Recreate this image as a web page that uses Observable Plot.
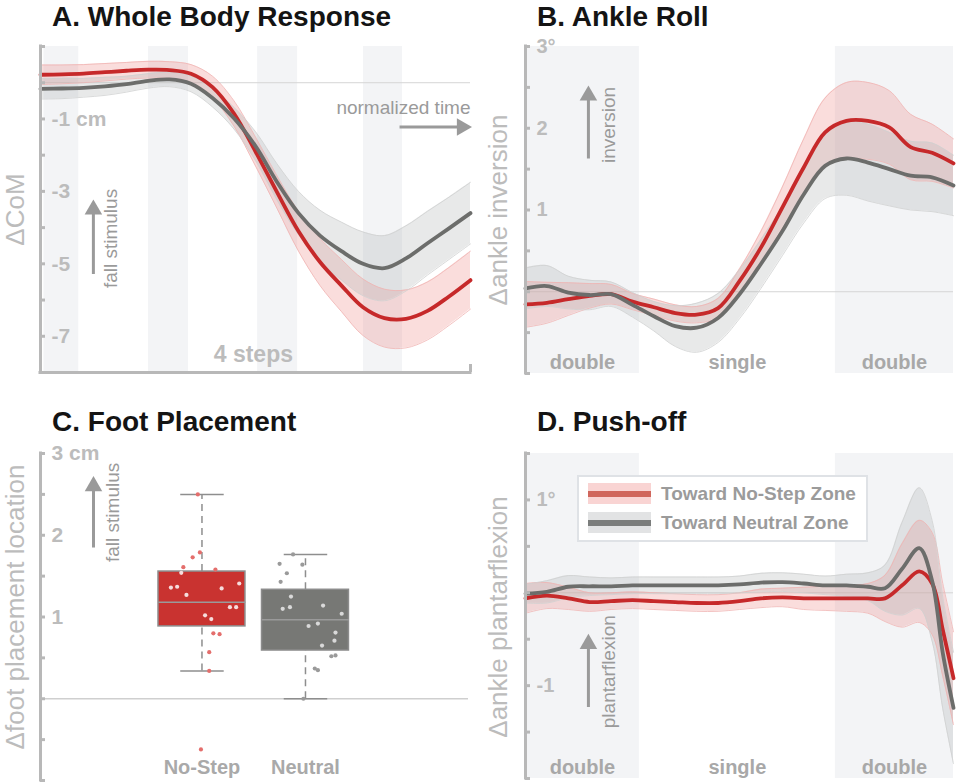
<!DOCTYPE html>
<html>
<head>
<meta charset="utf-8">
<script src="https://cdn.jsdelivr.net/npm/d3@7"></script>
<script src="https://cdn.jsdelivr.net/npm/@observablehq/plot@0.6"></script>
<style>
  body { margin: 0; background: #fff; font-family: "Liberation Sans", Arial, Helvetica, sans-serif; }
  #wrap { position: relative; width: 958px; height: 784px; overflow: hidden; background: #fff; }
  .panel { position: absolute; }
  .panel svg { overflow: visible; }
  .title { position: absolute; font-weight: bold; font-size: 28px; line-height: 28px; color: #141414; white-space: nowrap; }
  #legend { position: absolute; left: 577px; top: 475px; width: 287px; height: 63px; border: 2px solid #dfe2e6; background: #fff; }
  .sw { position: absolute; left: 9px; width: 63px; height: 21px; }
  .sw .ln { position: absolute; left: 0; right: 0; top: 8px; height: 6px; }
  .lt { position: absolute; left: 82px; font-weight: bold; font-size: 19px; line-height: 21px; color: #9b9b9b; white-space: nowrap; }
</style>
</head>
<body>
<div id="wrap">
  <div class="title" style="left:52px;top:3px">A. Whole Body Response</div>
  <div class="title" style="left:537px;top:3px">B. Ankle Roll</div>
  <div class="title" style="left:52px;top:408px">C. Foot Placement</div>
  <div class="title" style="left:537px;top:408px">D. Push-off</div>
  <div class="panel" id="pA" style="left:0;top:30px"></div>
  <div class="panel" id="pB" style="left:480px;top:30px"></div>
  <div class="panel" id="pC" style="left:0;top:430px"></div>
  <div class="panel" id="pD" style="left:480px;top:430px"></div>
</div>
<script>
// ---------------- DATA ----------------
// Panel A: whole body response (ΔCoM, cm) over normalized time (0-100)
const timeA = [0,5,10,15,20,25,30,35,40,45,50,55,60,65,70,75,80,85,90,95,100];
const comNoStep   = [0.22,0.23,0.25,0.29,0.33,0.36,0.35,0.25,-0.12,-0.85,-1.9,-3.02,-4.1,-4.95,-5.6,-6.2,-6.5,-6.52,-6.3,-5.9,-5.45];
const comNoStepSE = [0.27,0.26,0.25,0.24,0.23,0.23,0.23,0.25,0.3,0.35,0.4,0.45,0.55,0.65,0.72,0.78,0.8,0.8,0.8,0.8,0.8];
const comNeutral   = [-0.17,-0.16,-0.14,-0.10,-0.04,0.05,0.09,-0.03,-0.42,-0.98,-1.75,-2.74,-3.6,-4.22,-4.65,-5.0,-5.12,-4.85,-4.43,-4.02,-3.6];
const comNeutralSE = [0.28,0.28,0.26,0.25,0.22,0.2,0.2,0.22,0.25,0.3,0.4,0.5,0.6,0.7,0.8,0.88,0.9,0.9,0.88,0.86,0.85];
const stepWindows = [[0.8,8.9],[25.1,34.4],[50.5,59.8],[75.1,84.2]];
const ticksA = [1,0,-1,-2,-3,-4,-5,-6,-7,-8];
const tickLabelValuesA = [-1,-3,-5,-7];
const tickLabelsA = ["-1 cm","-3","-5","-7"];

// Panel B: ankle roll (Δ inversion, deg)
const timeB = [0,5,10,15,20,25,30,35,40,45,50,55,60,65,70,75,80,85,90,95,100];
const invNoStep   = [-0.155,-0.135,-0.09,-0.05,-0.03,-0.12,-0.19,-0.26,-0.28,-0.2,0.13,0.54,1.03,1.52,1.95,2.09,2.09,2.01,1.77,1.7,1.57];
const invNoStepSE = [0.28,0.25,0.2,0.15,0.12,0.1,0.1,0.1,0.1,0.12,0.15,0.2,0.25,0.35,0.42,0.47,0.47,0.45,0.4,0.35,0.3];
const invNeutral   = [0.04,0.07,-0.01,-0.04,-0.03,-0.16,-0.3,-0.42,-0.44,-0.32,-0.03,0.34,0.74,1.19,1.54,1.63,1.58,1.5,1.42,1.4,1.3];
const invNeutralSE = [0.25,0.25,0.2,0.18,0.15,0.15,0.18,0.25,0.3,0.3,0.3,0.3,0.3,0.35,0.4,0.45,0.47,0.45,0.42,0.42,0.37];
const ticksB = [3,2.5,2,1.5,1,0.5,0,-0.5,-1];
const tickLabelValuesB = [3,2,1];
const tickLabelsB = ["3°","2","1"];

// Gait phases (shared by B and D)
const phaseNames  = ["double","single","double"];
const phaseStarts = [0,26.6,72.4];
const phaseEnds   = [26.6,72.4,100];

// Panel C: foot placement (cm)
const categories = ["No-Step","Neutral"];
const boxQ1     = [0.885,0.59];
const boxMedian = [1.18,0.967];
const boxQ3     = [1.556,1.333];
const whiskLow  = [0.34,0.0];
const whiskHigh = [2.5,1.765];
const noStepPoints = [2.5,1.73,1.79,1.61,1.54,1.58,1.36,1.37,1.27,1.35,1.41,1.12,1.12,1.02,0.975,0.80,0.79,0.57,0.34,-0.62];
const noStepJitter = [-0.04,-0.09,-0.02,-0.18,-0.20,0.13,-0.30,-0.24,-0.15,0.19,0.36,0.27,0.33,0.03,0.09,0.11,0.17,0.07,0.07,-0.01];
const neutralPoints = [1.765,1.65,1.64,1.535,1.43,1.25,1.10,1.12,1.14,1.04,0.89,0.92,0.81,0.71,0.65,0.52,0.53,0.37,0.35,0.0];
const neutralJitter = [-0.12,-0.25,-0.03,-0.18,-0.24,-0.14,-0.22,-0.15,0.17,0.35,0.03,0.12,0.29,0.28,0.16,0.25,0.29,0.09,0.12,-0.02];
const ticksC = [3,2.5,2,1.5,1,0.5,0,-0.5,-1];
const tickLabelValuesC = [3,2,1];
const tickLabelsC = ["3 cm","2","1"];

// Panel D: push-off (Δ plantarflexion, deg)
const timeD = [0,5,10,15,20,25,30,35,40,45,50,55,60,65,70,75,80,84,88,92,95,97.5,100];
const pfNoStep   = [-0.06,-0.03,-0.06,-0.10,-0.09,-0.08,-0.09,-0.10,-0.11,-0.11,-0.09,-0.06,-0.05,-0.06,-0.06,-0.06,-0.06,-0.06,0.08,0.23,0.1,-0.4,-0.92];
const pfNoStepSE = [0.16,0.14,0.12,0.1,0.09,0.09,0.09,0.09,0.09,0.09,0.09,0.1,0.1,0.12,0.13,0.14,0.16,0.25,0.45,0.55,0.55,0.5,0.5];
const pfNeutral   = [-0.01,0.01,0.065,0.07,0.07,0.08,0.08,0.08,0.08,0.08,0.09,0.11,0.115,0.10,0.08,0.08,0.065,0.05,0.26,0.48,0.13,-0.65,-1.24];
const pfNeutralSE = [0.1,0.12,0.12,0.1,0.09,0.09,0.09,0.09,0.09,0.09,0.09,0.1,0.1,0.1,0.1,0.12,0.15,0.25,0.5,0.65,0.65,0.6,0.6];
const ticksD = [1.5,1,0.5,0,-0.5,-1,-1.5,-2];
const tickLabelValuesD = [1,-1];
const tickLabelsD = ["1°","-1"];

const seriesNames = ["Toward No-Step Zone","Toward Neutral Zone"];

// ---------------- STYLE ----------------
const FONT = '"Liberation Sans", Arial, Helvetica, sans-serif';
const RED = "#c6292a", GRAY = "#6c6d6b";
const RED_BAND = "#ee8f8c", GRAY_BAND = "#b3b5b7";
const RED_EDGE = "#f0b4b2", GRAY_EDGE = "#cfd0d1";
const AXIS = "#b8b8b8", TICKLAB = "#bcbcbc", NOTE = "#9a9a9a", SHADE = "#f3f4f6";
const CURVE = "catmull-rom";

function rows(t, v, se) { return t.map((x, i) => ({t: x, v: v[i], lo: v[i] - se[i], hi: v[i] + se[i]})); }

function curveMarks(red, gray) {
  return [
    Plot.areaY(red,  {x: "t", y1: "lo", y2: "hi", fill: RED_BAND,  fillOpacity: 0.3, curve: CURVE}),
    Plot.areaY(gray, {x: "t", y1: "lo", y2: "hi", fill: GRAY_BAND, fillOpacity: 0.3, curve: CURVE}),
    Plot.line(red,  {x: "t", y: "lo", stroke: RED_EDGE,  strokeWidth: 0.8, curve: CURVE}),
    Plot.line(red,  {x: "t", y: "hi", stroke: RED_EDGE,  strokeWidth: 0.8, curve: CURVE}),
    Plot.line(gray, {x: "t", y: "lo", stroke: GRAY_EDGE, strokeWidth: 0.8, curve: CURVE}),
    Plot.line(gray, {x: "t", y: "hi", stroke: GRAY_EDGE, strokeWidth: 0.8, curve: CURVE}),
    Plot.line(red,  {x: "t", y: "v", stroke: RED,  strokeWidth: 3.8, curve: CURVE}),
    Plot.line(gray, {x: "t", y: "v", stroke: GRAY, strokeWidth: 3.8, curve: CURVE})
  ];
}

function yAxisMarks(xMin, ticks, labelValues, labels, labelSize) {
  return [
    Plot.ruleX([xMin], {stroke: AXIS, strokeWidth: 3, strokeLinecap: "square"}),
    Plot.axisY(ticks, {anchor: "left", tickSize: 5, dx: 5, stroke: AXIS, strokeWidth: 3, tickFormat: () => "", label: null}),
    Plot.text(labelValues, {y: d => d, text: (d, i) => labels[i], frameAnchor: "left", textAnchor: "start", dx: 11,
      fill: TICKLAB, fontWeight: "bold", fontSize: labelSize, lineAnchor: "middle"})
  ];
}

function yLabel(text, dx, dy) {
  return Plot.text([text], {text: d => d, frameAnchor: "left", dx, dy, rotate: -90, fill: "#bcbcbc", fontSize: 26, textAnchor: "middle", lineAnchor: "middle"});
}

function noteArrow(x, y1, y2) {
  return [
    Plot.link([0], {x1: () => x, x2: () => x, y1: () => y1, y2: () => y2, stroke: NOTE, strokeWidth: 3}),
    Plot.dot([0], {x: () => x, y: () => y2, symbol: "triangle", r: 6.5, fill: NOTE, stroke: "none"})
  ];
}

function phaseMarks() {
  const ph = phaseNames.map((n, i) => ({n, a: phaseStarts[i], b: phaseEnds[i]}));
  return {
    shade: Plot.rect(ph.filter(d => d.n === "double"), {x1: "a", x2: "b", fill: SHADE}),
    text: Plot.text(ph, {x: d => (d.a + d.b) / 2, text: "n", frameAnchor: "bottom", dy: -11, lineAnchor: "middle",
      fill: "#a8a8a8", fontWeight: "bold", fontSize: 20})
  };
}

// ---------------- PANEL A ----------------
{
  const red = rows(timeA, comNoStep, comNoStepSE), gray = rows(timeA, comNeutral, comNeutralSE);
  const p = Plot.plot({
    width: 480, height: 360, marginLeft: 40, marginRight: 10, marginTop: 16, marginBottom: 18,
    x: {domain: [0, 100], axis: null},
    y: {domain: [-8, 1], axis: null},
    style: {fontFamily: FONT, background: "transparent"},
    marks: [
      Plot.rect(stepWindows, {x1: d => d[0], x2: d => d[1], fill: SHADE}),
      Plot.ruleY([0], {stroke: "#d5d5d5", strokeWidth: 1}),
      ...curveMarks(red, gray),
      Plot.ruleY([-8], {stroke: AXIS, strokeWidth: 3, strokeLinecap: "square"}),
      Plot.axisX([100], {anchor: "bottom", tickSize: 8, dy: -8, stroke: AXIS, strokeWidth: 3, tickFormat: () => "", label: null}),
      ...yAxisMarks(0, ticksA, tickLabelValuesA, tickLabelsA, 21),
      yLabel("ΔCoM", -25, 0),
      ...noteArrow(12.3, -5.28, -3.5),
      Plot.text(["fall stimulus"], {x: () => 16.4, y: () => -4.3, text: d => d, rotate: -90, fill: NOTE, fontSize: 19, textAnchor: "middle", lineAnchor: "middle"}),
      Plot.text(["normalized time"], {x: () => 100, y: () => -0.69, text: d => d, fill: NOTE, fontSize: 19, textAnchor: "end", lineAnchor: "middle"}),
      Plot.link([0], {x1: () => 83.5, x2: () => 98, y1: () => -1.22, y2: () => -1.22, stroke: NOTE, strokeWidth: 3}),
      Plot.dot([0], {x: () => 98, y: () => -1.22, symbol: "triangle", rotate: 90, r: 6.5, fill: NOTE, stroke: "none"}),
      Plot.text(["4 steps"], {x: () => 49.5, text: d => d, frameAnchor: "bottom", dy: -18, fill: TICKLAB, fontWeight: "bold", fontSize: 23, textAnchor: "middle", lineAnchor: "middle"})
    ]
  });
  document.getElementById("pA").appendChild(p);
}

// ---------------- PANEL B ----------------
{
  const red = rows(timeB, invNoStep, invNoStepSE), gray = rows(timeB, invNeutral, invNeutralSE);
  const ph = phaseMarks();
  const p = Plot.plot({
    width: 478, height: 360, marginLeft: 45, marginRight: 5, marginTop: 16, marginBottom: 17,
    x: {domain: [0, 100], axis: null},
    y: {domain: [-1, 3], axis: null},
    style: {fontFamily: FONT, background: "transparent"},
    marks: [
      ph.shade,
      Plot.ruleY([0], {stroke: "#d5d5d5", strokeWidth: 1}),
      ...curveMarks(red, gray),
      ...yAxisMarks(0, ticksB, tickLabelValuesB, tickLabelsB, 20),
      yLabel("Δankle inversion", -27, 0),
      ...noteArrow(14.7, 1.63, 2.4),
      Plot.text(["inversion"], {x: () => 19.4, y: () => 2.04, text: d => d, rotate: -90, fill: NOTE, fontSize: 19, textAnchor: "middle", lineAnchor: "middle"}),
      ph.text
    ]
  });
  document.getElementById("pB").appendChild(p);
}

// ---------------- PANEL C ----------------
{
  const boxes = categories.map((c, i) => ({c, pos: i + 1, q1: boxQ1[i], med: boxMedian[i], q3: boxQ3[i], lo: whiskLow[i], hi: whiskHigh[i]}));
  const pts = [
    ...noStepPoints.map((v, i) => ({g: 0, v, j: noStepJitter[i]})),
    ...neutralPoints.map((v, i) => ({g: 1, v, j: neutralJitter[i]}))
  ];
  const inside = d => d.v >= boxQ1[d.g] && d.v <= boxQ3[d.g] && Math.abs(d.j) < 0.42;
  const ptColor = d => d.g === 0 ? (inside(d) ? "#f6dcdc" : "#e46e6c") : (inside(d) ? "#d9d9d9" : "#9a9a9a");
  const HW = 0.42, CAP = 0.21;
  const xD = [-0.56, 3.575];
  const p = Plot.plot({
    width: 480, height: 354, marginLeft: 40, marginRight: 12, marginTop: 23, marginBottom: 4,
    x: {domain: xD, axis: null},
    y: {domain: [-1, 3], axis: null},
    style: {fontFamily: FONT, background: "transparent"},
    marks: [
      Plot.ruleY([0], {stroke: "#cfcfcf", strokeWidth: 1.5}),
      Plot.ruleX(boxes, {x: "pos", y1: "q3", y2: "hi", stroke: "#8e8e8e", strokeWidth: 1.5, strokeDasharray: "7,5"}),
      Plot.ruleX(boxes, {x: "pos", y1: "lo", y2: "q1", stroke: "#8e8e8e", strokeWidth: 1.5, strokeDasharray: "7,5"}),
      Plot.link(boxes, {x1: d => d.pos - CAP, x2: d => d.pos + CAP, y1: "hi", y2: "hi", stroke: "#8e8e8e", strokeWidth: 1.5}),
      Plot.link(boxes, {x1: d => d.pos - CAP, x2: d => d.pos + CAP, y1: "lo", y2: "lo", stroke: "#8e8e8e", strokeWidth: 1.5}),
      Plot.rect(boxes, {x1: d => d.pos - HW, x2: d => d.pos + HW, y1: "q1", y2: "q3", fill: (d, i) => i === 0 ? "#c93330" : "#777875", stroke: "#8c8c8c", strokeWidth: 1.5}),
      Plot.link(boxes, {x1: d => d.pos - HW, x2: d => d.pos + HW, y1: "med", y2: "med", stroke: "#9a9a9a", strokeWidth: 1.5}),
      Plot.dot(pts, {x: d => d.g + 1 + d.j, y: "v", r: 2.1, fill: ptColor, stroke: "none"}),
      ...yAxisMarks(xD[0], ticksC, tickLabelValuesC, tickLabelsC, 21),
      yLabel("Δfoot placement location", -25, -10),
      ...noteArrow(-0.048, 1.85, 2.6),
      Plot.text(["fall stimulus"], {x: () => 0.136, y: () => 2.28, text: d => d, rotate: -90, fill: NOTE, fontSize: 19, textAnchor: "middle", lineAnchor: "middle"}),
      Plot.text(boxes, {x: "pos", text: "c", frameAnchor: "bottom", dy: -13, fill: "#a9a9a9", fontWeight: "bold", fontSize: 20, textAnchor: "middle", lineAnchor: "middle"})
    ]
  });
  document.getElementById("pC").appendChild(p);
}

// ---------------- PANEL D ----------------
{
  const red = rows(timeD, pfNoStep, pfNoStepSE), gray = rows(timeD, pfNeutral, pfNeutralSE);
  const ph = phaseMarks();
  const p = Plot.plot({
    width: 478, height: 354, marginLeft: 45, marginRight: 5, marginTop: 23, marginBottom: 6,
    x: {domain: [0, 100], axis: null},
    y: {domain: [-2, 1.5], axis: null},
    style: {fontFamily: FONT, background: "transparent"},
    marks: [
      ph.shade,
      Plot.ruleY([0], {stroke: "#d5d5d5", strokeWidth: 1}),
      ...curveMarks(red, gray),
      ...yAxisMarks(0, ticksD, tickLabelValuesD, tickLabelsD, 20),
      yLabel("Δankle plantarflexion", -27, 1),
      ...noteArrow(14.7, -1.23, -0.55),
      Plot.text(["plantarflexion"], {x: () => 19.4, y: () => -0.85, text: d => d, rotate: -90, fill: NOTE, fontSize: 19, textAnchor: "middle", lineAnchor: "middle"}),
      ph.text
    ]
  });
  document.getElementById("pD").appendChild(p);

  // legend
  const lg = document.createElement("div");
  lg.id = "legend";
  const swBand = ["rgba(238,143,140,0.38)", "rgba(179,181,183,0.38)"];
  const swLine = ["#d0665c", "#7b7d7c"];
  seriesNames.forEach((n, i) => {
    const sw = document.createElement("div");
    sw.className = "sw"; sw.style.top = (6 + i * 29) + "px"; sw.style.background = swBand[i];
    const ln = document.createElement("div"); ln.className = "ln"; ln.style.background = swLine[i];
    sw.appendChild(ln); lg.appendChild(sw);
    const t = document.createElement("div");
    t.className = "lt"; t.style.top = (6 + i * 29) + "px"; t.textContent = n;
    lg.appendChild(t);
  });
  document.getElementById("wrap").appendChild(lg);
}
</script>
</body>
</html>
